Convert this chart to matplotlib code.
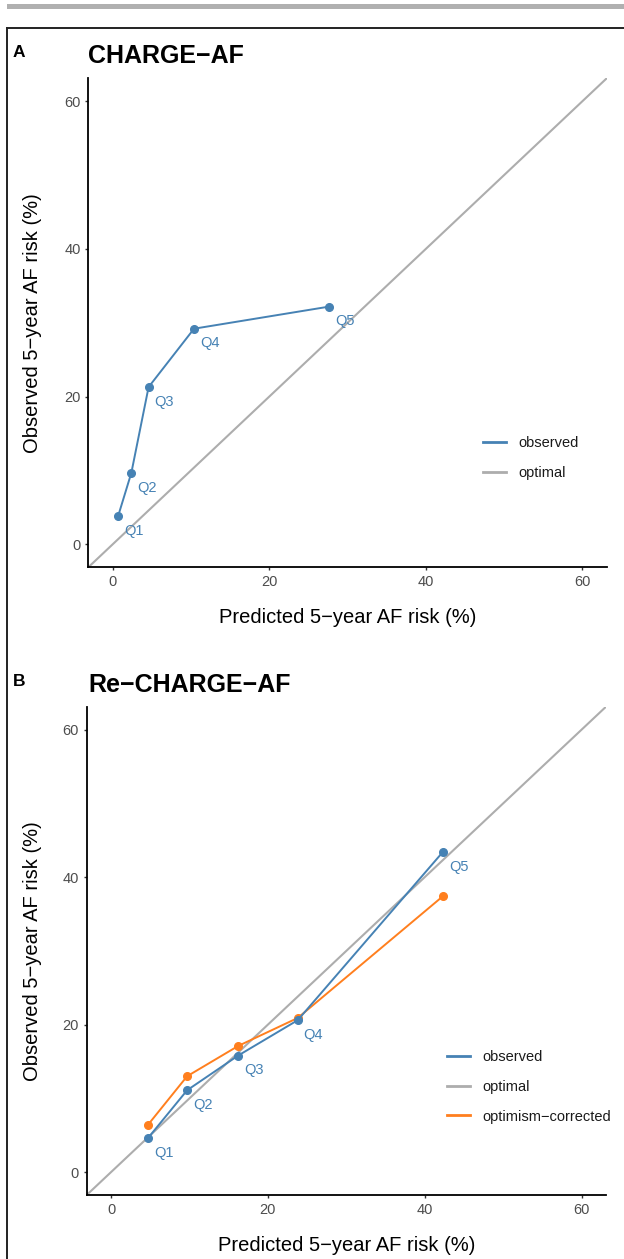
import matplotlib
matplotlib.use("Agg")
import matplotlib.pyplot as plt
from matplotlib.lines import Line2D
from matplotlib.patches import Rectangle

plt.rcParams['font.family'] = ['Liberation Sans', 'DejaVu Sans']

# calibration data (quintiles Q1..Q5)
quintiles = ["Q1", "Q2", "Q3", "Q4", "Q5"]

charge_pred = [0.7, 2.4, 4.6, 10.4, 27.7]
charge_obs = [3.8, 9.7, 21.3, 29.2, 32.2]

recharge_pred = [4.7, 9.7, 16.2, 23.8, 42.3]
recharge_obs = [4.6, 11.1, 15.8, 20.6, 43.4]
recharge_corr = [6.4, 13.0, 17.1, 20.9, 37.4]

ticks = [0, 20, 40, 60]
lims = (-3.1, 63.1)

BLUE = '#4682B4'
GREY = '#ADADAD'
ORANGE = '#FF7F1E'

W, H = 624, 1259
fig = plt.figure(figsize=(W / 100, H / 100), dpi=100)


def fx(px):
    return px / W


def fy(py):
    return 1 - py / H


# page decoration: grey bar and frame
fig.add_artist(Rectangle((fx(7), fy(9.3)), 1, (9.3 - 4) / H, transform=fig.transFigure,
                         color='#B0B0B0', lw=0))
fig.add_artist(Line2D([fx(7), fx(7)], [fy(28.3), 0], transform=fig.transFigure, color='#222222', lw=1.4))
fig.add_artist(Line2D([fx(7), 1], [fy(28.3), fy(28.3)], transform=fig.transFigure, color='#222222', lw=1.4))


def make_panel(left, top, right, bottom, letter, title, pred, obs, corr=None, leg_xy=None):
    ax = fig.add_axes([fx(left), fy(bottom), (right - left) / W, (bottom - top) / H])
    ax.set_xlim(lims)
    ax.set_ylim(lims)
    ax.set_xticks(ticks)
    ax.set_yticks(ticks)
    for s in ['top', 'right']:
        ax.spines[s].set_visible(False)
    for s in ['left', 'bottom']:
        ax.spines[s].set_linewidth(1.3)
        ax.spines[s].set_color('black')
    ax.tick_params(direction='out', length=2.5, width=1.0, color='#333333',
                   labelsize=10.5, labelcolor='#4D4D4D', pad=3)

    ax.plot(pred, obs, color=BLUE, lw=1.4, marker='o', ms=5.5, label='observed', zorder=4)
    ax.axline((0, 0), slope=1, color=GREY, lw=1.5, label='optimal', zorder=2)
    if corr is not None:
        ax.plot(pred, corr, color=ORANGE, lw=1.4, marker='o', ms=5.5,
                label='optimism\u2212corrected', zorder=3)
    for q, x, y in zip(quintiles, pred, obs):
        ax.text(x + 2, y - 2, q, color=BLUE, fontsize=10.5, ha='center', va='center', zorder=5)

    handles, labels = ax.get_legend_handles_labels()
    lh = [Line2D([], [], color=h.get_color(), lw=2) for h in handles]
    ax.legend(lh, labels, loc='upper left', bbox_to_anchor=(fx(leg_xy[0]), fy(leg_xy[1])),
              bbox_transform=fig.transFigure, frameon=False, fontsize=10.5,
              handlelength=1.6, handletextpad=0.8, labelspacing=1.08,
              borderpad=0, borderaxespad=0, labelcolor='#1A1A1A')

    fig.text(fx((left + right) / 2), fy(bottom + 56), 'Predicted 5\u2212year AF risk (%)',
             fontsize=14.5, ha='center', va='baseline')
    fig.text(fx(33), fy((top + bottom) / 2), 'Observed 5\u2212year AF risk (%)',
             fontsize=14.5, ha='center', va='center', rotation=90)
    fig.text(fx(13), fy(top - 21), letter, fontsize=12.5, fontweight='bold', va='baseline')
    fig.text(fx(88), fy(top - 15), title, fontsize=18, fontweight='bold', va='baseline')
    return ax


make_panel(88.3, 78.3, 606.7, 567.3, 'A', 'CHARGE\u2212AF',
           charge_pred, charge_obs, leg_xy=(483, 436))
make_panel(86.7, 706.7, 606.0, 1195.0, 'B', 'Re\u2212CHARGE\u2212AF',
           recharge_pred, recharge_obs, recharge_corr, leg_xy=(447, 1050))

fig.savefig('out.png', dpi=100)
